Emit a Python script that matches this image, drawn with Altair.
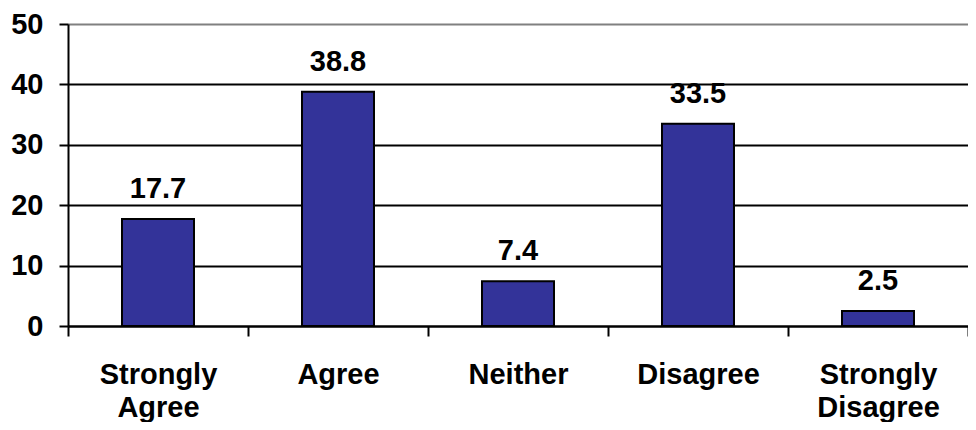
import altair as alt
import pandas as pd

categories = ["Strongly Agree", "Agree", "Neither", "Disagree", "Strongly Disagree"]
values = [17.7, 38.8, 7.4, 33.5, 2.5]
y_ticks = [0, 10, 20, 30, 40, 50]

df = pd.DataFrame({"cat": categories, "val": values})

FONT = "Liberation Sans"
FS = 29

x = alt.X(
    "cat:N",
    sort=categories,
    scale=alt.Scale(paddingInner=0, paddingOuter=0),
    axis=alt.Axis(
        title=None,
        labelAngle=0,
        labelExpr="split(datum.label, ' ')",
        labelFont=FONT,
        labelFontSize=FS,
        labelFontWeight="bold",
        labelColor="black",
        labelLineHeight=33,
        labelPadding=24,
        labelBaseline="top",
        tickBand="extent",
        tickSize=10,
        tickColor="black",
        tickWidth=2,
        domainColor="black",
        domainWidth=2,
        grid=False,
    ),
)

y = alt.Y(
    "val:Q",
    scale=alt.Scale(domain=[0, 50], nice=False),
    axis=alt.Axis(
        title=None,
        values=y_ticks,
        labelFont=FONT,
        labelFontSize=FS,
        labelFontWeight="bold",
        labelColor="black",
        labelPadding=16,
        tickSize=9,
        tickColor="black",
        tickWidth=2,
        domainColor="black",
        domainWidth=2,
        grid=True,
        gridColor={"condition": {"test": "datum.value === 50", "value": "#808080"}, "value": "black"},
        gridWidth=2,
        gridOpacity=1,
    ),
)

bars = alt.Chart(df).mark_bar(
    width=alt.RelativeBandSize(0.4),
    color="#333399",
    stroke="black",
    strokeWidth=2,
).encode(x=x, y=y)

labels = alt.Chart(df).mark_text(
    font=FONT,
    fontSize=FS,
    fontWeight="bold",
    color="black",
    baseline="alphabetic",
    dy=-21,
).encode(
    x=alt.X("cat:N", sort=categories),
    y="val:Q",
    text=alt.Text("val:Q", format=".1f"),
)

chart = (
    alt.layer(bars, labels)
    .properties(
        width=900,
        height=302,
        autosize=alt.AutoSizeParams(type="none"),
        padding={"left": 60, "top": 16, "right": 0, "bottom": 96},
    )
    .configure_view(stroke=None)
    .configure(background="white")
)

chart.save("out.html", embed_options={"renderer": "svg", "actions": False})
